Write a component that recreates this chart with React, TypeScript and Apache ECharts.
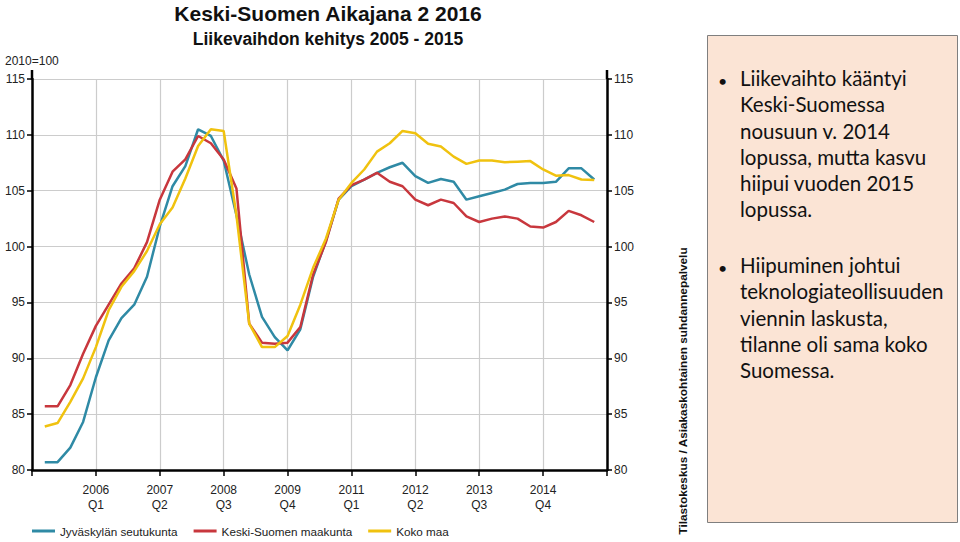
import React, { useEffect, useRef } from "react";
import * as echarts from "echarts";

// Quarters 2005Q1 .. 2015Q4 (x position = index + 1, axis runs from 2004Q4 = 0 to 2016Q1 = 45)
const quarters = [
  "2005Q1", "2005Q2", "2005Q3", "2005Q4",
  "2006Q1", "2006Q2", "2006Q3", "2006Q4",
  "2007Q1", "2007Q2", "2007Q3", "2007Q4",
  "2008Q1", "2008Q2", "2008Q3", "2008Q4",
  "2009Q1", "2009Q2", "2009Q3", "2009Q4",
  "2010Q1", "2010Q2", "2010Q3", "2010Q4",
  "2011Q1", "2011Q2", "2011Q3", "2011Q4",
  "2012Q1", "2012Q2", "2012Q3", "2012Q4",
  "2013Q1", "2013Q2", "2013Q3", "2013Q4",
  "2014Q1", "2014Q2", "2014Q3", "2014Q4",
  "2015Q1", "2015Q2", "2015Q3", "2015Q4",
];

const jyvaskyla = [
  80.7, 80.7, 82.0, 84.3, 88.3, 91.6, 93.6, 94.8, 97.3, 101.8,
  105.4, 107.2, 110.5, 109.9, 107.7, 102.8, 97.5, 93.7, 91.9, 90.7,
  92.6, 97.3, 100.5, 104.2, 105.4, 106.0, 106.6, 107.1, 107.5, 106.3,
  105.7, 106.05, 105.8, 104.2, 104.5, 104.8, 105.1, 105.6, 105.7, 105.7,
  105.8, 107.0, 107.0, 106.0,
];

const keskiSuomi = [
  85.7, 85.7, 87.6, 90.4, 92.9, 94.8, 96.7, 98.05, 100.4, 104.2,
  106.7, 107.8, 109.9, 109.25, 107.8, 105.2, 93.1, 91.4, 91.3, 91.4,
  92.8, 97.5, 100.4, 104.3, 105.5, 106.0, 106.6, 105.8, 105.4, 104.2,
  103.7, 104.2, 103.9, 102.7, 102.2, 102.5, 102.7, 102.5, 101.8, 101.7,
  102.2, 103.2, 102.8, 102.2,
];

const kokoMaa = [
  83.9, 84.2, 86.1, 88.2, 91.0, 94.3, 96.4, 97.8, 99.6, 102.0,
  103.5, 106.1, 109.0, 110.5, 110.35, 102.8, 93.1, 91.0, 91.0, 92.0,
  94.8, 98.1, 100.7, 104.2, 105.7, 106.9, 108.5, 109.25, 110.35, 110.15,
  109.2, 108.95, 108.05, 107.4, 107.7, 107.7, 107.55, 107.6, 107.65, 106.9,
  106.35, 106.4, 106.0, 105.95,
];

const xTickLabels = ["", "2006\nQ1", "2007\nQ2", "2008\nQ3", "2009\nQ4", "2011\nQ1", "2012\nQ2", "2013\nQ3", "2014\nQ4", ""];

const seriesNames = ["Jyväskylän seutukunta", "Keski-Suomen maakunta", "Koko maa"];
const seriesColors = ["#2f8aa5", "#c8373d", "#f0c20f"];

const titleText = "Keski-Suomen Aikajana 2 2016";
const subtitleText = "Liikevaihdon kehitys 2005 - 2015";
const baseText = "2010=100";
const sourceText = "Tilastokeskus / Asiakaskohtainen suhdannepalvelu";
const bullet1 = "Liikevaihto kääntyi\nKeski-Suomessa\nnousuun v. 2014\nlopussa, mutta kasvu\nhiipui vuoden 2015\nlopussa.";
const bullet2 = "Hiipuminen johtui\nteknologiateollisuuden\nviennin laskusta,\ntilanne oli sama koko\nSuomessa.";

const FONT = "'Liberation Sans', Arial, sans-serif";
const BOX_FONT = "Lato, 'Open Sans', sans-serif";

export default function App() {
  const ref = useRef<HTMLDivElement>(null);

  useEffect(() => {
    if (!ref.current) return;
    const chart = echarts.init(ref.current, null, { renderer: "svg" });
    const toPairs = (vals: number[]) => vals.map((v, i) => [i + 1, v]);
    const allSeries = [jyvaskyla, keskiSuomi, kokoMaa];

    const yAxisCommon = {
      type: "value",
      min: 80,
      max: 115,
      interval: 5,
      axisLine: { show: true, lineStyle: { color: "#000", width: 2.5 } },
      axisTick: { show: true, length: 5, lineStyle: { color: "#000", width: 1.5 } },
      axisLabel: { color: "#222", fontSize: 12, fontFamily: FONT, margin: 7 },
    };

    chart.setOption({
      animation: false,
      backgroundColor: "#ffffff",
      grid: { left: 32, right: 353, top: 79, bottom: 72, containLabel: false },
      legend: {
        left: 32,
        top: 524,
        padding: 0,
        icon: "rect",
        itemWidth: 23,
        itemHeight: 3,
        itemGap: 16,
        textStyle: { color: "#222", fontSize: 11.7, fontFamily: FONT, lineHeight: 14 },
        data: seriesNames,
      },
      xAxis: {
        type: "value",
        min: 0,
        max: 45,
        interval: 5,
        axisLine: { show: true, lineStyle: { color: "#000", width: 2.5 } },
        axisTick: { show: true, length: 6, lineStyle: { color: "#000", width: 1.5 } },
        axisLabel: {
          color: "#222",
          fontSize: 12,
          fontFamily: FONT,
          lineHeight: 15,
          margin: 12,
          showMinLabel: true,
          showMaxLabel: true,
          formatter: (v: number) => xTickLabels[Math.round(v / 5)] ?? "",
        },
        splitLine: { show: true, lineStyle: { color: "#cccccc", width: 1.2 } },
      },
      yAxis: [
        {
          ...yAxisCommon,
          position: "left",
          splitLine: { show: true, lineStyle: { color: "#cccccc", width: 1.2 } },
        },
        {
          ...yAxisCommon,
          position: "right",
          splitLine: { show: false },
        },
      ],
      series: allSeries.map((vals, k) => ({
        name: seriesNames[k],
        type: "line",
        data: toPairs(vals),
        showSymbol: false,
        symbol: "none",
        color: seriesColors[k],
        lineStyle: { color: seriesColors[k], width: 2.5 },
        z: 3 + k,
      })),
      graphic: [
        {
          type: "text",
          x: 328,
          y: 13,
          style: {
            text: titleText,
            fill: "#111",
            font: `bold 21px ${FONT}`,
            align: "center",
            verticalAlign: "middle",
          },
        },
        {
          type: "text",
          x: 328,
          y: 39,
          style: {
            text: subtitleText,
            fill: "#111",
            font: `bold 17.5px ${FONT}`,
            align: "center",
            verticalAlign: "middle",
          },
        },
        {
          type: "text",
          x: 5,
          y: 61,
          style: {
            text: baseText,
            fill: "#222",
            font: `12px ${FONT}`,
            align: "left",
            verticalAlign: "middle",
          },
        },
        {
          type: "line",
          shape: { x1: 32, y1: 70, x2: 32, y2: 80 },
          style: { stroke: "#000", lineWidth: 2.5 },
        },
        {
          type: "line",
          shape: { x1: 607, y1: 70, x2: 607, y2: 80 },
          style: { stroke: "#000", lineWidth: 2.5 },
        },
        {
          type: "text",
          x: 683,
          y: 391,
          rotation: Math.PI / 2,
          style: {
            text: sourceText,
            fill: "#111",
            font: `bold 11.8px ${FONT}`,
            align: "center",
            verticalAlign: "middle",
          },
        },
        {
          type: "rect",
          shape: { x: 707.5, y: 35.5, width: 250, height: 487 },
          style: { fill: "#fbe4d5", stroke: "#7f7f7f", lineWidth: 1 },
        },
        {
          type: "text",
          x: 718,
          y: 67,
          style: { text: "•", fill: "#111", font: `16px ${BOX_FONT}`, verticalAlign: "top", lineHeight: 26.2 },
        },
        {
          type: "text",
          x: 740,
          y: 65,
          style: { text: bullet1, fill: "#111", font: `20.5px ${BOX_FONT}`, verticalAlign: "top", lineHeight: 26.2 },
        },
        {
          type: "text",
          x: 718,
          y: 254,
          style: { text: "•", fill: "#111", font: `16px ${BOX_FONT}`, verticalAlign: "top", lineHeight: 26.2 },
        },
        {
          type: "text",
          x: 740,
          y: 252,
          style: { text: bullet2, fill: "#111", font: `20.5px ${BOX_FONT}`, verticalAlign: "top", lineHeight: 26.2 },
        },
      ],
    });

    return () => chart.dispose();
  }, []);

  return (
    <div
      ref={ref}
      style={{ position: "fixed", left: 0, top: 0, width: 960, height: 542, background: "#fff" }}
    />
  );
}
